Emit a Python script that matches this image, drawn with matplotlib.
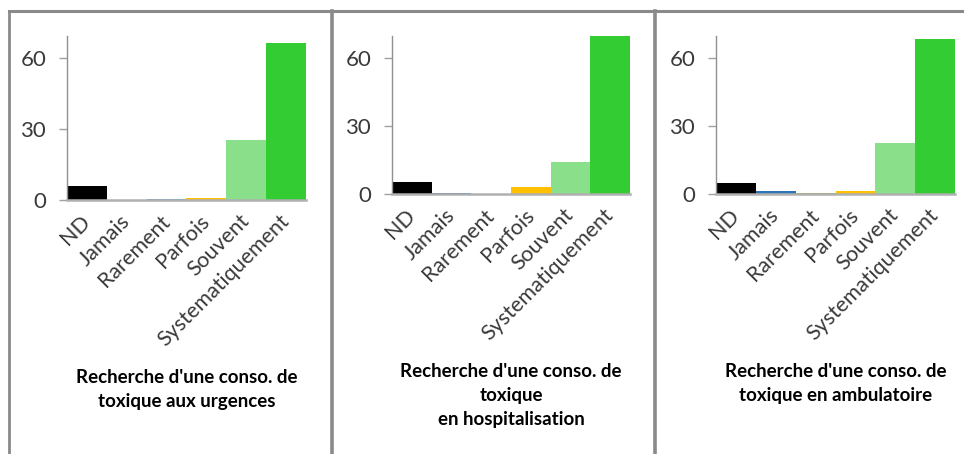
import matplotlib
matplotlib.use("Agg")
import matplotlib.pyplot as plt
from matplotlib.lines import Line2D

categories = ["ND", "Jamais", "Rarement", "Parfois", "Souvent", "Systematiquement"]

urgences = [6, 0, 0.5, 1, 25.6, 66.5]
hospitalisation = [5.4, 0.5, 0, 2.9, 13.9, 69.5]
ambulatoire = [4.8, 1.5, 0.5, 1.5, 22.5, 68.4]

titles = [
    "Recherche d'une conso. de\ntoxique aux urgences",
    "Recherche d'une conso. de\ntoxique\nen hospitalisation",
    "Recherche d'une conso. de\ntoxique en ambulatoire",
]

colors_urg = ["#000000", "#4F8BD0", "#5B9BD5", "#FFC000", "#8AE08A", "#33CC33"]
colors_hosp = ["#000000", "#2E75B6", "#9BBB59", "#FFC000", "#8AE08A", "#33CC33"]
colors_amb = ["#000000", "#2E75B6", "#8DB43C", "#FFC000", "#8AE08A", "#33CC33"]

yticks = [0, 30, 60]

W, H = 964, 454
fig = plt.figure(figsize=(W / 100, H / 100), dpi=100)
plt.rcParams['font.family'] = ['Lato', 'DejaVu Sans']

def px_axes(x0, y0, x1, y1):
    return fig.add_axes([x0 / W, 1 - y1 / H, (x1 - x0) / W, (y1 - y0) / H])

panels = [
    (urgences, colors_urg, titles[0], (67, 36, 306, 200), 378),
    (hospitalisation, colors_hosp, titles[1], (392, 36, 630, 194), 372),
    (ambulatoire, colors_amb, titles[2], (716, 36, 955, 194), 372),
]

for vals, cols, title, box, ty in panels:
    ax = px_axes(*box)
    x = range(len(categories))
    ax.bar(x, vals, width=1.0, color=cols, edgecolor='none')
    ax.set_xlim(-0.5, len(categories) - 0.5)
    ax.set_ylim(0, 69.5)
    ax.set_yticks(yticks)
    ax.set_yticklabels([str(v) for v in yticks], fontsize=16, color='#3a3a3a')
    ax.tick_params(axis='y', length=6, width=1, color='#a0a0a0', pad=9)
    ax.set_xticks(list(x))
    ax.set_xticklabels(categories, rotation=45, ha='right', va='center',
                       rotation_mode='anchor', fontsize=15.5, color='#3a3a3a')
    ax.tick_params(axis='x', length=0, pad=13)
    for s in ['top', 'right']:
        ax.spines[s].set_visible(False)
    ax.spines['left'].set_color('#909090')
    ax.spines['left'].set_linewidth(1)
    ax.spines['bottom'].set_color('#b0b0b0')
    ax.spines['bottom'].set_linewidth(1.8)
    cx = (box[0] + box[2]) / 2
    fig.text(cx / W, 1 - (ty - 9) / H, title, ha='center', va='top',
             fontsize=13.5, fontweight='bold', color='#000000', linespacing=1.5)

# panel frame lines
frame_col = '#8a8a8a'
fig.add_artist(Line2D([9 / W, 1], [1 - 11 / H, 1 - 11 / H], transform=fig.transFigure,
                      color=frame_col, lw=2.2))
for xp in [9, 332, 655]:
    fig.add_artist(Line2D([xp / W, xp / W], [0, 1 - 11 / H], transform=fig.transFigure,
                          color=frame_col, lw=2.6 if xp > 9 else 2.0))

fig.savefig("out.png", dpi=100)
